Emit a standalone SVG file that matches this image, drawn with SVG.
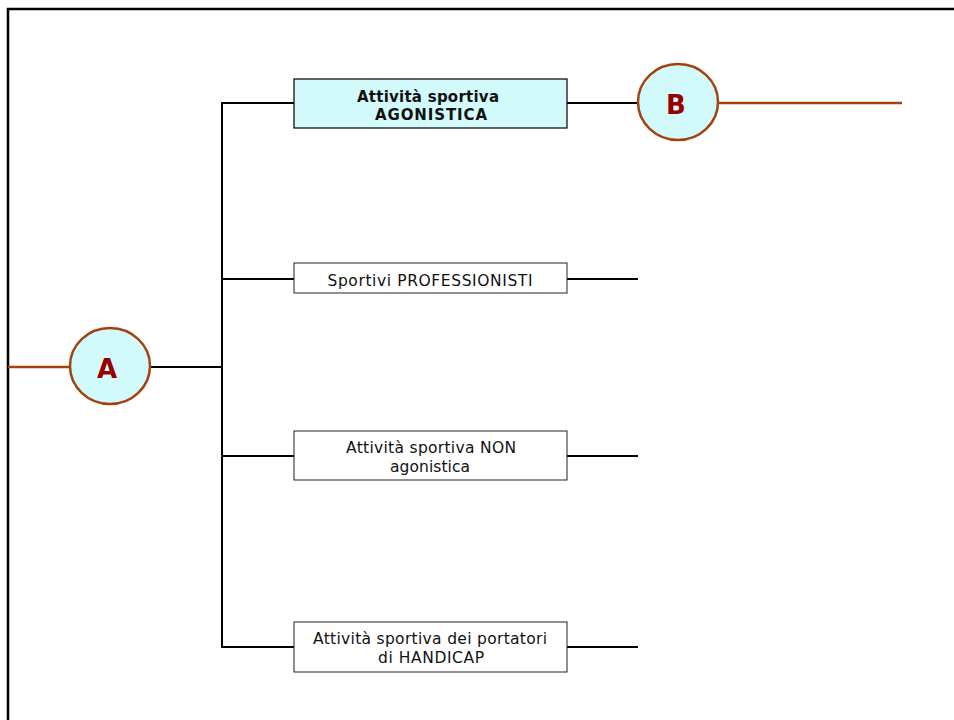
<svg xmlns="http://www.w3.org/2000/svg" width="954" height="720" viewBox="0 0 954 720">
<defs>
<style>
.frame{fill:none;stroke:#000;stroke-width:2.5}
.conn{fill:none;stroke:#000;stroke-width:2}
.brown{fill:none;stroke:#a3410f;stroke-width:2.5}
.box{fill:#fff;stroke:#222;stroke-width:1}
.boxh{fill:#d2fafa;stroke:#000;stroke-width:1.2}
.circ{fill:#d2fafa;stroke:#a3410f;stroke-width:2.5}
.lbl{font-family:"DejaVu Sans",Verdana,sans-serif;font-size:15.5px;fill:#111;text-anchor:middle}
.lblb{font-family:"DejaVu Sans",Verdana,sans-serif;font-size:15px;font-weight:bold;fill:#111;text-anchor:middle}
.big{font-family:"DejaVu Sans",Verdana,sans-serif;font-size:26px;font-weight:bold;fill:#990000;text-anchor:middle}
</style>
</defs>
<rect class="frame" x="8" y="9" width="970" height="730"/>
<g id="connectors">
<line class="brown" x1="8" y1="367" x2="70" y2="367"/>
<line class="conn" x1="150" y1="367" x2="222" y2="367"/>
<line class="conn" x1="222" y1="102" x2="222" y2="648"/>
<line class="conn" x1="221" y1="103" x2="294" y2="103"/>
<line class="conn" x1="567" y1="103" x2="638" y2="103"/>
<line class="brown" x1="718" y1="103" x2="902" y2="103"/>
<line class="conn" x1="221" y1="279" x2="294" y2="279"/>
<line class="conn" x1="567" y1="279" x2="638" y2="279"/>
<line class="conn" x1="221" y1="456" x2="294" y2="456"/>
<line class="conn" x1="567" y1="456" x2="638" y2="456"/>
<line class="conn" x1="221" y1="647" x2="294" y2="647"/>
<line class="conn" x1="567" y1="647" x2="638" y2="647"/>
</g>
<g id="nodeA">
<ellipse class="circ" cx="110" cy="366" rx="40" ry="38"/>
<text class="big" x="107" y="378">A</text>
</g>
<g id="nodeB">
<ellipse class="circ" cx="678" cy="102" rx="40" ry="38"/>
<text class="big" x="676" y="114">B</text>
</g>
<g id="box1">
<rect class="boxh" x="294" y="79" width="273" height="49"/>
<text class="lblb" x="428" y="102" textLength="142" lengthAdjust="spacing">Attività sportiva</text>
<text class="lblb" x="431" y="120" textLength="112" lengthAdjust="spacing">AGONISTICA</text>
</g>
<g id="box2">
<rect class="box" x="294" y="263" width="273" height="30"/>
<text class="lbl" x="430" y="286" textLength="205" lengthAdjust="spacing">Sportivi PROFESSIONISTI</text>
</g>
<g id="box3">
<rect class="box" x="294" y="431" width="273" height="49"/>
<text class="lbl" x="431" y="453" textLength="170" lengthAdjust="spacing">Attività sportiva NON</text>
<text class="lbl" x="430" y="472" textLength="80" lengthAdjust="spacing">agonistica</text>
</g>
<g id="box4">
<rect class="box" x="294" y="622" width="273" height="50"/>
<text class="lbl" x="430" y="644" textLength="234" lengthAdjust="spacing">Attività sportiva dei portatori</text>
<text class="lbl" x="431" y="663" textLength="106" lengthAdjust="spacing">di HANDICAP</text>
</g>
</svg>
